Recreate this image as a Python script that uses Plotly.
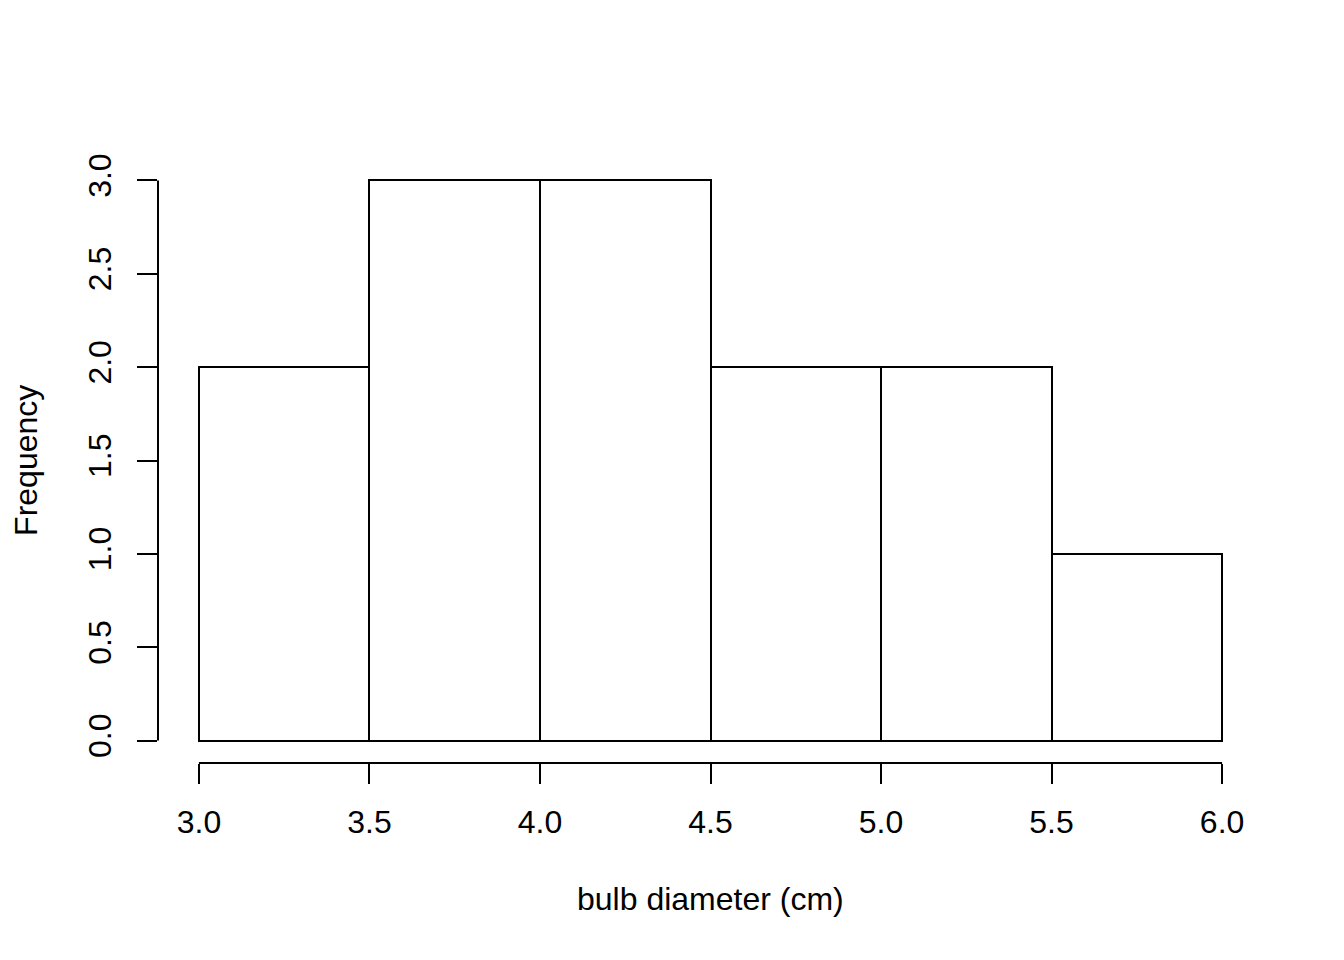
import plotly.graph_objects as go

# histogram bins and counts
bin_edges = [3.0, 3.5, 4.0, 4.5, 5.0, 5.5, 6.0]
counts = [2, 3, 3, 2, 2, 1]
x_ticks = [3.0, 3.5, 4.0, 4.5, 5.0, 5.5, 6.0]
x_ticktext = ["3.0", "3.5", "4.0", "4.5", "5.0", "5.5", "6.0"]
y_ticks = [0.0, 0.5, 1.0, 1.5, 2.0, 2.5, 3.0]
y_ticktext = ["0.0", "0.5", "1.0", "1.5", "2.0", "2.5", "3.0"]

centers = [(a + b) / 2 for a, b in zip(bin_edges[:-1], bin_edges[1:])]
widths = [b - a for a, b in zip(bin_edges[:-1], bin_edges[1:])]

font = dict(family="Liberation Sans, Arial, Helvetica, sans-serif", size=32, color="black")

fig = go.Figure(go.Bar(
    x=centers,
    y=counts,
    width=widths,
    marker=dict(color="white", line=dict(color="black", width=2)),
    hoverinfo="skip",
))

# R-style 4% padding around the data range
xr = [bin_edges[0], bin_edges[-1]]
yr = [0, max(counts)]
xpad = 0.04 * (xr[1] - xr[0])
ypad = 0.04 * (yr[1] - yr[0])

fig.update_layout(
    width=1344, height=960,
    margin=dict(l=150, r=89, t=150, b=205),
    paper_bgcolor="white", plot_bgcolor="white",
    font=font,
    showlegend=False,
    bargap=0,
    xaxis=dict(
        range=[xr[0] - xpad, xr[1] + xpad],
        tickvals=x_ticks, ticktext=x_ticktext,
        ticks="outside", ticklen=20, tickwidth=2, tickcolor="black",
        showgrid=False, zeroline=False, showline=False,
        ticklabelstandoff=11,
    ),
    yaxis=dict(
        range=[yr[0] - ypad, yr[1] + ypad],
        tickvals=y_ticks, ticktext=y_ticktext, tickangle=-90,
        ticks="outside", ticklen=20, tickwidth=2, tickcolor="black",
        showgrid=False, zeroline=False, showline=False,
        ticklabelstandoff=13,
    ),
    shapes=[
        # axis lines only span the tick range, as in base R
        dict(type="line", xref="x", yref="paper", x0=x_ticks[0], x1=x_ticks[-1], y0=0, y1=0,
             line=dict(color="black", width=2)),
        dict(type="line", xref="paper", yref="y", x0=0, x1=0, y0=y_ticks[0], y1=y_ticks[-1],
             line=dict(color="black", width=2)),
    ],
    annotations=[
        dict(text="bulb diameter (cm)", xref="paper", yref="paper", x=0.5, y=-0.2255,
             xanchor="center", yanchor="middle", showarrow=False, font=font),
        dict(text="Frequency", xref="paper", yref="paper", x=-0.12, y=0.5, textangle=-90,
             xanchor="center", yanchor="middle", showarrow=False, font=font),
    ],
)

fig.write_html("out.html")
